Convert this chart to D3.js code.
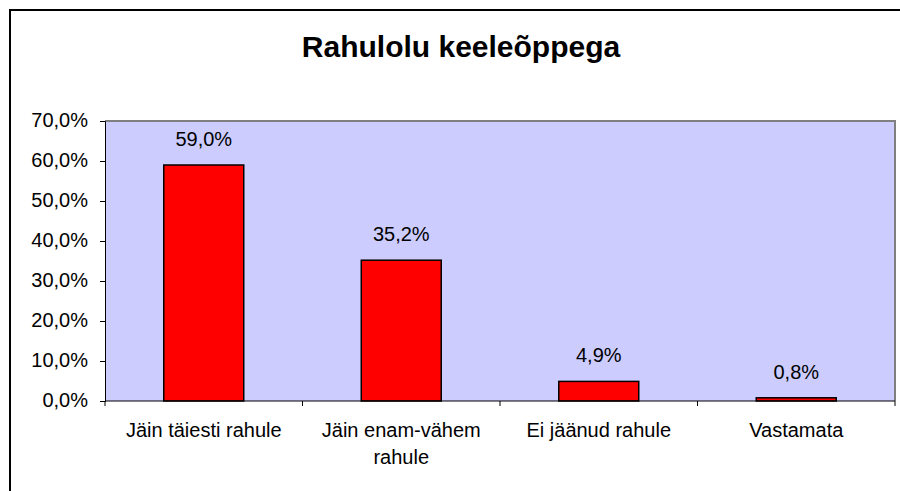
<!DOCTYPE html>
<html>
<head>
<meta charset="utf-8">
<script src="https://cdn.jsdelivr.net/npm/d3@7"></script>
<style>
  html, body { margin: 0; padding: 0; background: #fff; }
  svg { display: block; font-family: "Liberation Sans", Arial, sans-serif; }
</style>
</head>
<body>
<svg id="chart" width="900" height="491"></svg>
<script>
// data
const title = "Rahulolu keeleõppega";
const categories = ["Jäin täiesti rahule", "Jäin enam-vähem rahule", "Ei jäänud rahule", "Vastamata"];
const values = [59.0, 35.2, 4.9, 0.8];
const yTicks = [0, 10, 20, 30, 40, 50, 60, 70];

const svg = d3.select("#chart");
const plot = { left: 105, right: 895, top: 121, bottom: 401 };

const fmt = v => d3.format(".1f")(v).replace(".", ",") + "%";

// outer frame (runs off the right and bottom edges like the reference)
svg.append("rect")
    .attr("x", 10).attr("y", 10)
    .attr("width", 902).attr("height", 492)
    .attr("fill", "#fff")
    .attr("stroke", "#000")
    .attr("stroke-width", 2);

svg.append("text")
    .attr("x", 461).attr("y", 57)
    .attr("text-anchor", "middle")
    .attr("font-size", 30)
    .attr("font-weight", "bold")
    .text(title);

const x = d3.scaleBand().domain(categories).range([plot.left, plot.right]);
const y = d3.scaleLinear().domain([0, 70]).range([plot.bottom, plot.top]);

// plot area
svg.append("rect")
    .attr("x", plot.left).attr("y", plot.top)
    .attr("width", plot.right - plot.left)
    .attr("height", plot.bottom - plot.top)
    .attr("fill", "#ccccff");
svg.append("path")
    .attr("d", `M${plot.left},${plot.top}H${plot.right}V${plot.bottom}`)
    .attr("fill", "none")
    .attr("stroke", "#808080")
    .attr("stroke-width", 2);

// bars
const barW = x.bandwidth() * 0.405;
svg.append("g").selectAll("rect")
    .data(values)
    .join("rect")
    .attr("x", (d, i) => x(categories[i]) + x.bandwidth() / 2 - barW / 2)
    .attr("y", d => y(d))
    .attr("width", barW)
    .attr("height", d => y(0) - y(d))
    .attr("fill", "#ff0000")
    .attr("stroke", "#000")
    .attr("stroke-width", 1.5);

// data labels
svg.append("g").selectAll("text")
    .data(values)
    .join("text")
    .attr("x", (d, i) => x(categories[i]) + x.bandwidth() / 2)
    .attr("y", d => y(d) - 19)
    .attr("text-anchor", "middle")
    .attr("font-size", 20)
    .attr("fill", "#000")
    .text(fmt);

// y axis
const yAxis = svg.append("g")
    .attr("transform", `translate(${plot.left},0)`)
    .call(d3.axisLeft(y).tickValues(yTicks).tickSize(5).tickPadding(12).tickFormat(fmt));
yAxis.select(".domain").attr("stroke", "#000").attr("stroke-width", 1);
yAxis.selectAll(".tick line").attr("stroke", "#000");
yAxis.selectAll(".tick text")
    .attr("font-size", 20)
    .attr("font-family", null)
    .attr("fill", "#000")
    .attr("dy", "0.25em");

// x axis: ticks at category boundaries
const xAxis = svg.append("g");
xAxis.append("line")
    .attr("x1", plot.left).attr("x2", plot.right)
    .attr("y1", plot.bottom).attr("y2", plot.bottom)
    .attr("stroke", "#000");
const bounds = categories.map(c => x(c)).concat([plot.right]);
xAxis.selectAll("line.tk")
    .data(bounds)
    .join("line")
    .attr("class", "tk")
    .attr("x1", d => d).attr("x2", d => d)
    .attr("y1", plot.bottom).attr("y2", plot.bottom + 5)
    .attr("stroke", "#000");

// category labels, wrapped to the band width
xAxis.selectAll("text.cat")
    .data(categories)
    .join("text")
    .attr("class", "cat")
    .attr("x", d => x(d) + x.bandwidth() / 2)
    .attr("y", 437)
    .attr("text-anchor", "middle")
    .attr("font-size", 20)
    .each(function (d) {
        const el = d3.select(this);
        const cx = x(d) + x.bandwidth() / 2;
        const words = d.split(" ");
        let line = [];
        let lineNo = 0;
        let tspan = el.append("tspan").attr("x", cx).attr("dy", 0);
        words.forEach(w => {
            line.push(w);
            tspan.text(line.join(" "));
            if (tspan.node().getComputedTextLength() > 175 && line.length > 1) {
                line.pop();
                tspan.text(line.join(" "));
                line = [w];
                lineNo++;
                tspan = el.append("tspan").attr("x", cx).attr("dy", 26.5).text(w);
            }
        });
    });
</script>
</body>
</html>
